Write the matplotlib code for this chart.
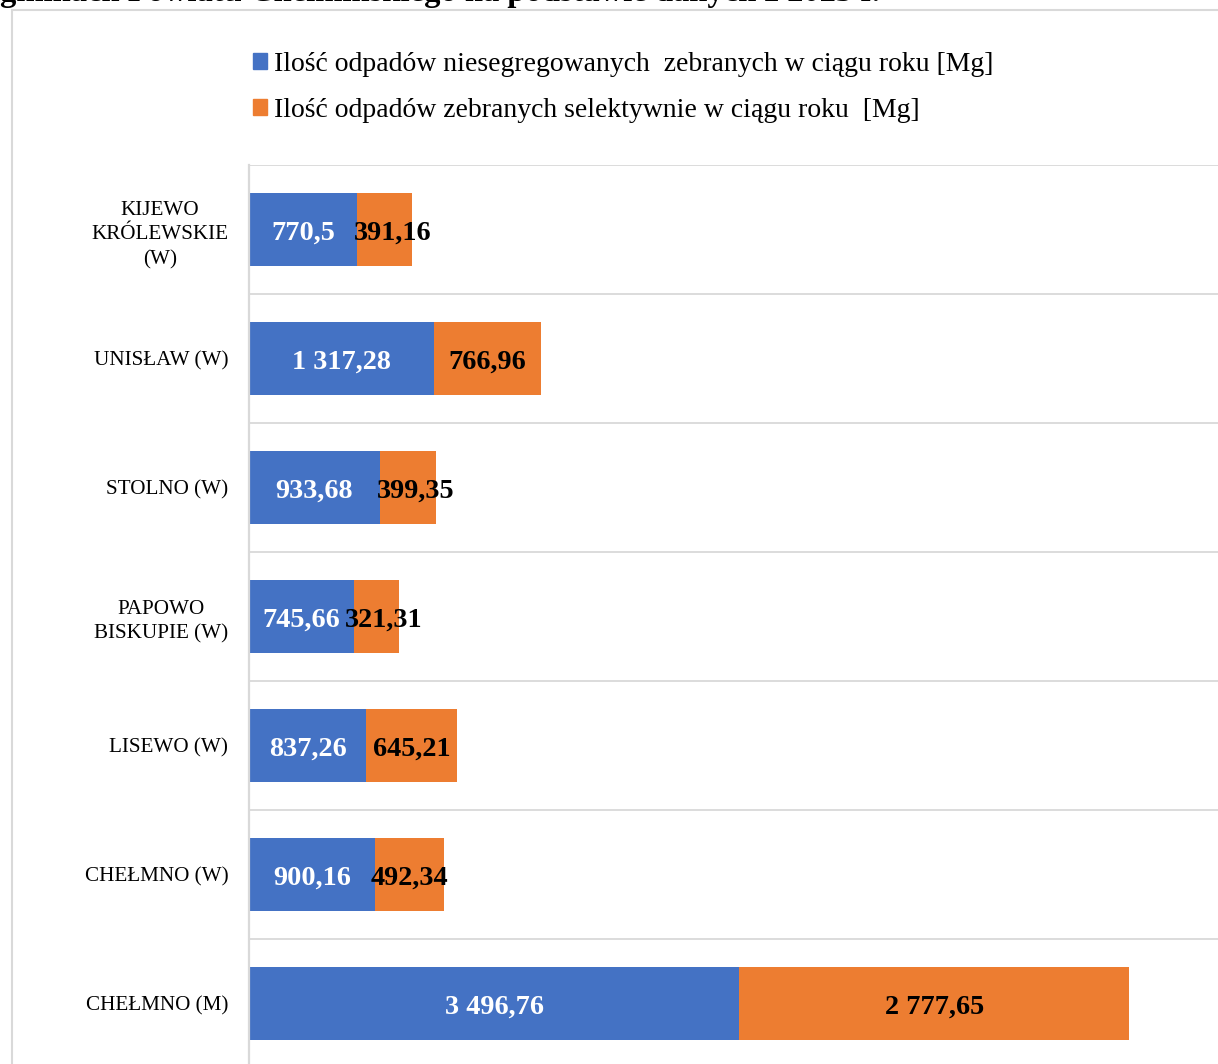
import matplotlib
matplotlib.use("Agg")
import matplotlib.pyplot as plt
from matplotlib.patches import Rectangle, Patch

plt.rcParams['font.family'] = ['Liberation Serif', 'DejaVu Serif']

categories = ["KIJEWO\nKRÓLEWSKIE\n(W)", "UNISŁAW (W)", "STOLNO (W)",
              "PAPOWO\nBISKUPIE (W)", "LISEWO (W)", "CHEŁMNO (W)", "CHEŁMNO (M)"]
unsegregated = [770.5, 1317.28, 933.68, 745.66, 837.26, 900.16, 3496.76]
selective = [391.16, 766.96, 399.35, 321.31, 645.21, 492.34, 2777.65]
series_names = ["Ilość odpadów niesegregowanych  zebranych w ciągu roku [Mg]",
                "Ilość odpadów zebranych selektywnie w ciągu roku  [Mg]"]
title = "gminach Powiatu Chełmińskiego na podstawie danych z 2023 r."

BLUE = "#4472C4"
ORANGE = "#ED7D31"
GRID = "#d9d9d9"


def fmt(v):
    s = f"{v:,.2f}".rstrip("0").rstrip(".")
    return s.replace(",", " ").replace(".", ",")


W, H = 1218, 1064
fig = plt.figure(figsize=(W / 100, H / 100), dpi=100)
fig.patch.set_facecolor("white")

ax_left = 249 / W
ax_width = 7000 * 0.14025 / W
ax_top = 1 - 165 / H
ax_height = 903 / H
ax = fig.add_axes([ax_left, ax_top - ax_height, ax_width, ax_height])

y = list(range(len(categories)))
ax.barh(y, unsegregated, height=0.56, color=BLUE, label=series_names[0])
ax.barh(y, selective, left=unsegregated, height=0.56, color=ORANGE,
        label=series_names[1])

for yi, u, s in zip(y, unsegregated, selective):
    ax.text(u / 2, yi + 0.025, fmt(u), ha="center", va="center", color="white",
            fontsize=20.3, fontweight="bold")
    shift = 57 if s < 420 else 0
    ax.text(u + s / 2 + shift, yi + 0.025, fmt(s), ha="center",
            va="center", color="black", fontsize=20.3, fontweight="bold")

ax.set_xlim(0, 7000)
ax.set_ylim(len(categories) - 0.5, -0.5)
ax.set_yticks(y)
ax.set_yticklabels(categories, fontsize=15.2)
for lab in ax.get_yticklabels():
    lab.set_multialignment("center")
    lab.set_linespacing(1.4)
ax.tick_params(axis="y", length=0, pad=15)
ax.tick_params(axis="x", bottom=False, labelbottom=False)
for sp in ["top", "right", "bottom"]:
    ax.spines[sp].set_visible(False)
ax.spines["left"].set_color(GRID)
ax.spines["left"].set_linewidth(1.6)
for b in range(len(categories)):
    ax.axhline(b - 0.5, color=GRID, lw=1.3, zorder=0)

fig.legend(handles=[Patch(color=BLUE), Patch(color=ORANGE)], labels=series_names,
           loc="upper left", bbox_to_anchor=(253 / W, 1 - 52 / H), frameon=False,
           fontsize=20, handlelength=0.52, handleheight=0.52, handletextpad=0.25,
           labelspacing=0.76, borderpad=0, borderaxespad=0)

frame = Rectangle((12 / W, -0.2), 1.5, 1.2 - 10 / H, transform=fig.transFigure,
                  fill=False, edgecolor=GRID, lw=1.5)
fig.add_artist(frame)

fig.text(0, 1 - 1 / H, title, ha="left", va="baseline", fontsize=23.5,
         fontweight="bold")

fig.savefig("out.png", dpi=100)
